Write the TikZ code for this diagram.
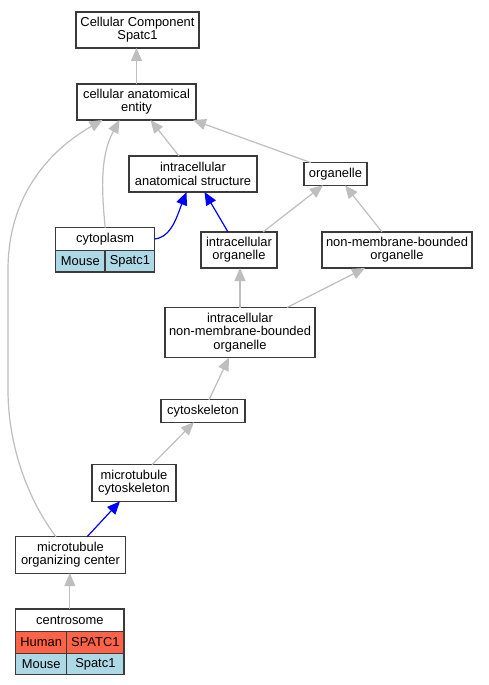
\documentclass[tikz,border=0pt]{standalone}
\usepackage{fontspec}
\setmainfont{Liberation Sans}
\usetikzlibrary{arrows.meta,calc}
\definecolor{edgegray}{HTML}{BEBEBE}
\definecolor{boxline}{HTML}{3A3A3A}
\definecolor{humanfill}{HTML}{FF6347}
\definecolor{mousefill}{HTML}{ADD8E6}
\begin{document}
\begin{tikzpicture}[x=1pt,y=-1pt,
  every node/.style={font=\fontsize{12.9}{13.3}\selectfont, inner sep=0pt, outer sep=0pt},
  term/.style={draw=boxline, line width=1.2pt, fill=white, align=center},
  cell/.style={draw=boxline, line width=1.2pt, align=center},
  isa/.style={draw=edgegray, line width=1.2pt, -{Triangle[length=13pt,width=11pt]}},
  partof/.style={draw=blue, line width=1.2pt, -{Triangle[length=13pt,width=11pt]}}]
\useasboundingbox (0,0) rectangle (488,685);
\fill[white] (0,0) rectangle (488,685);
% nodes
\node[term, minimum width=123pt, minimum height=36pt] (ccs) at (137.5,30) {Cellular Component\\Spatc1};
\node[term, minimum width=119pt, minimum height=36pt] (cae) at (136.5,102) {cellular anatomical\\entity};
\node[term, minimum width=128pt, minimum height=36pt] (ias) at (193,174) {intracellular\\anatomical structure};
\node[term, minimum width=63pt, minimum height=22.6pt] (org) at (335.5,174) {organelle};
\node[term, minimum width=99pt, minimum height=22.6pt] (cytoT) at (105.2,239) {cytoplasm};
\node[cell, fill=mousefill, minimum width=49.3pt, minimum height=21.7pt] (cytoM) at (80.35,261.15) {Mouse};
\node[cell, fill=mousefill, minimum width=49.7pt, minimum height=21.7pt] (cytoS) at (129.85,261.15) {Spatc1};
\node[term, minimum width=76pt, minimum height=36pt] (io) at (239,250) {intracellular\\organelle};
\node[term, minimum width=150pt, minimum height=36pt] (nmbo) at (397,250) {non-membrane-bounded\\organelle};
\node[term, minimum width=150pt, minimum height=50pt] (inmbo) at (240,332.5) {intracellular\\non-membrane-bounded\\organelle};
\node[term, minimum width=84pt, minimum height=22.4pt] (csk) at (203,411) {cytoskeleton};
\node[term, minimum width=84pt, minimum height=36.6pt] (mtc) at (134,483) {microtubule\\cytoskeleton};
\node[term, minimum width=110pt, minimum height=36.3pt] (moc) at (70.5,555) {microtubule\\organizing center};
\node[term, minimum width=108.3pt, minimum height=22.3pt] (centroT) at (69.85,620.15) {centrosome};
\node[cell, fill=humanfill, minimum width=51pt, minimum height=22pt] (centroH) at (41.2,642.3) {Human};
\node[cell, fill=humanfill, minimum width=57.3pt, minimum height=22pt] (centroHS) at (95.35,642.3) {SPATC1};
\node[cell, fill=mousefill, minimum width=51pt, minimum height=21.4pt] (centroM) at (41.2,664) {Mouse};
\node[cell, fill=mousefill, minimum width=57.3pt, minimum height=21.4pt] (centroMS) at (95.35,664) {Spatc1};
% edges
\draw[isa] (cae.north) -- (cae.north |- ccs.south);
\draw[isa] ([xshift=-14pt]ias.north) -- ([xshift=14pt]cae.south);
\draw[isa] ([xshift=-24.5pt]org.north) -- ([xshift=-3pt]cae.south east);
\draw[isa] (cytoT.north) .. controls ($(cytoT.north)+(-4,-40)$) and ($(cae.south)+(-36,35)$) .. ([xshift=-17pt]cae.south);
\draw[isa] ([xshift=-14.5pt]moc.north) .. controls ($(moc.north)+(-46,-42)$) and (8,440) .. (8,390)
  -- (8,270) .. controls (8,195) and (50,150) .. ([xshift=-34pt]cae.south);
\draw[partof] (cytoT.east) .. controls ($(cytoT.east)+(17,-2)$) and ($(ias.south)+(-16,24)$) .. ([xshift=-6.5pt]ias.south);
\draw[partof] ([xshift=-11pt]io.north) -- ([xshift=11.5pt]ias.south);
\draw[isa] ([xshift=24pt]io.north) -- ([xshift=-12.5pt]org.south);
\draw[isa] ([xshift=-15pt]nmbo.north) -- ([xshift=9.5pt]org.south);
\draw[isa] (inmbo.north) -- (inmbo.north |- io.south);
\draw[isa] ([xshift=47pt]inmbo.north) -- ([xshift=-32pt]nmbo.south);
\draw[isa] ([xshift=6pt]csk.north) -- ([xshift=-11pt]inmbo.south);
\draw[isa] ([xshift=18pt]mtc.north) -- ([xshift=-9pt]csk.south);
\draw[partof] ([xshift=16.5pt]moc.north) -- ([xshift=-14pt]mtc.south);
\draw[isa] (centroT.north) -- (centroT.north |- moc.south);
\end{tikzpicture}
\end{document}
